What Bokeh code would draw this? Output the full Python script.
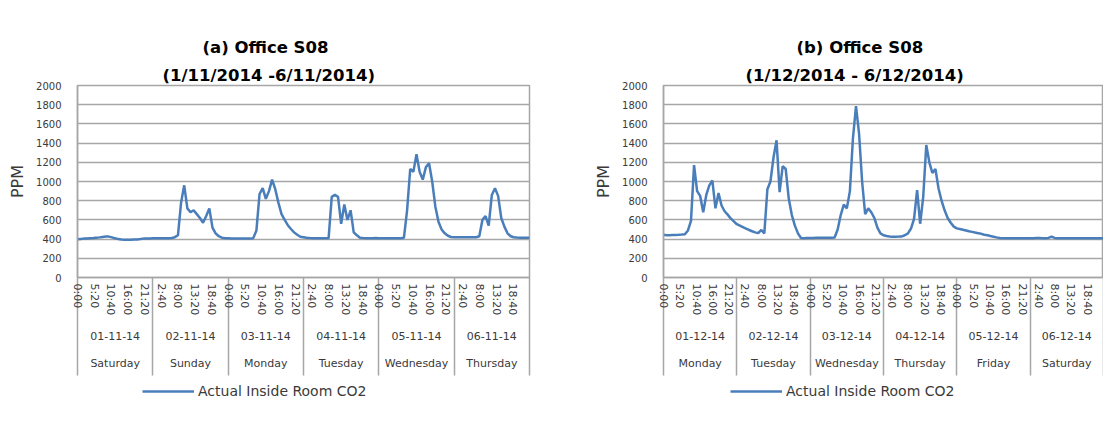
import numpy as np
from bokeh.plotting import figure
from bokeh.models import (Range1d, FixedTicker, LinearAxis,
                          Title, Legend, LegendItem, ColumnDataSource)
from bokeh.layouts import row, column
from bokeh.embed import file_html
from bokeh.resources import INLINE

# ---------------- data (hourly CO2 readings, ppm) ----------------
a_title = ["(a) Office  S08", "(1/11/2014 -6/11/2014)"]
a_dates = ["01-11-14", "02-11-14", "03-11-14", "04-11-14", "05-11-14", "06-11-14"]
a_days = ["Saturday", "Sunday", "Monday", "Tuesday", "Wednesday", "Thursday"]
a_day1 = [398, 402, 405, 407, 410, 412, 415, 418, 423, 428, 426, 418, 408, 400, 395, 393, 393, 393, 395, 396, 400, 405, 406, 406]
a_day2 = [408, 410, 410, 410, 410, 410, 412, 420, 440, 780, 960, 720, 680, 700, 660, 620, 570, 640, 720, 520, 460, 430, 415, 410]
a_day3 = [410, 406, 405, 405, 405, 405, 405, 405, 410, 490, 870, 930, 820, 900, 1020, 920, 780, 660, 600, 545, 505, 470, 445, 425]
a_day4 = [420, 415, 412, 410, 410, 410, 410, 410, 410, 840, 860, 840, 560, 760, 600, 700, 470, 440, 415, 412, 410, 410, 410, 412]
a_day5 = [410, 408, 408, 408, 408, 408, 408, 408, 415, 700, 1130, 1100, 1285, 1100, 1020, 1150, 1190, 1000, 740, 580, 500, 460, 435, 422]
a_day6 = [420, 420, 420, 420, 418, 418, 418, 420, 430, 600, 640, 540, 860, 930, 850, 620, 530, 460, 430, 420, 416, 415, 415, 415]
a_last = 415

b_title = ["(b) Office  S08", "(1/12/2014 - 6/12/2014)"]
b_dates = ["01-12-14", "02-12-14", "03-12-14", "04-12-14", "05-12-14", "06-12-14"]
b_days = ["Monday", "Tuesday", "Wednesday", "Thursday", "Friday", "Saturday"]
b_day1 = [445, 440, 440, 442, 444, 445, 447, 450, 490, 590, 1170, 900, 850, 680, 860, 960, 1010, 720, 880, 750, 690, 655, 615, 585]
b_day2 = [555, 540, 525, 510, 495, 482, 470, 462, 495, 460, 920, 1000, 1250, 1430, 890, 1160, 1130, 820, 650, 540, 460, 412, 410, 412]
b_day3 = [412, 412, 414, 415, 415, 414, 413, 413, 416, 500, 650, 760, 720, 900, 1450, 1785, 1500, 1000, 660, 720, 680, 620, 520, 460]
b_day4 = [440, 432, 428, 425, 425, 426, 428, 440, 460, 510, 610, 910, 560, 840, 1380, 1200, 1090, 1130, 930, 800, 700, 620, 570, 530]
b_day5 = [512, 505, 498, 490, 482, 475, 468, 462, 455, 445, 440, 432, 425, 418, 412, 410, 408, 408, 408, 408, 408, 408, 410, 410]
b_day6 = [410, 410, 412, 412, 410, 410, 412, 425, 412, 410, 410, 410, 410, 410, 410, 410, 410, 410, 410, 410, 410, 410, 410, 410]
b_last = 410

time_labels = ["0:00", "5:20", "10:40", "16:00", "21:20", "2:40", "8:00", "13:20", "18:40"]
y_ticks = [0, 200, 400, 600, 800, 1000, 1200, 1400, 1600, 1800, 2000]
series_name = "Actual Inside Room CO2"

# ---------------- styling ----------------
FONT = "DejaVu Sans"
BLUE = "#4a7ebb"
GRID = "#a6a6a6"
TXT = "#3a3a3a"
SEP = 98  # length of the day separator lines below the plot


def make_chart(title, dates, days, day_lists, last, frame_w, mb_right, t_offsets, margin):
    vals = [v for d in day_lists for v in d] + [last]
    minutes = [60 * i for i in range(len(vals))]
    src = ColumnDataSource(data=dict(x=minutes, y=vals))
    total = 1440 * len(dates)

    p = figure(frame_width=frame_w, frame_height=192, output_backend="svg", toolbar_location=None,
               x_range=Range1d(0, total), y_range=Range1d(0, 2000),
               min_border_left=0, min_border_right=mb_right,
               min_border_top=85, min_border_bottom=100, title=None, margin=margin)
    p.background_fill_color = "white"
    p.border_fill_color = "white"
    p.outline_line_color = GRID
    p.outline_line_width = 1.5

    xa = p.below[0]  # the time-of-day axis

    # titles (line 2 nearer the plot, line 1 outermost)
    p.add_layout(Title(text=title[1], align="left", offset=t_offsets[1], standoff=2,
                       text_font=FONT, text_font_size="16.5px", text_font_style="bold",
                       text_color="black"), "above")
    p.add_layout(Title(text=title[0], align="left", offset=t_offsets[0], standoff=11,
                       text_font=FONT, text_font_size="16.5px", text_font_style="bold",
                       text_color="black"), "above")

    p.line("x", "y", source=src, line_color=BLUE, line_width=2.5)

    # y axis
    p.yaxis.ticker = FixedTicker(ticks=y_ticks)
    p.yaxis.axis_label = "PPM"
    p.yaxis.axis_label_text_font = FONT
    p.yaxis.axis_label_text_font_size = "16px"
    p.yaxis.axis_label_text_font_style = "normal"
    p.yaxis.axis_label_text_color = TXT
    p.yaxis.axis_label_standoff = 6
    p.yaxis.major_label_text_font = FONT
    p.yaxis.major_label_text_font_size = "10px"
    p.yaxis.major_label_text_color = TXT
    p.yaxis.major_label_standoff = 10
    p.yaxis.major_tick_line_color = None
    p.yaxis.minor_tick_line_color = None
    p.yaxis.axis_line_color = GRID
    p.yaxis.axis_line_width = 1.5
    p.ygrid.ticker = FixedTicker(ticks=y_ticks)
    p.ygrid.grid_line_color = GRID
    p.ygrid.grid_line_width = 1.5
    p.xgrid.grid_line_color = None

    # time-of-day axis (ticks every 5h20m) with day separators as minor ticks
    n = len(time_labels) * 3
    tick_pos = [320 * i for i in range(n)]
    tick_txt = [time_labels[i % len(time_labels)] for i in range(n)]
    day_edges = [1440 * i for i in range(len(dates) + 1)]
    xa.ticker = FixedTicker(ticks=tick_pos, minor_ticks=day_edges)
    xa.major_label_overrides = {int(k): t for k, t in zip(tick_pos, tick_txt)}
    xa.major_label_orientation = "vertical"
    xa.major_label_text_font = FONT
    xa.major_label_text_font_size = "11px"
    xa.major_label_text_color = TXT
    xa.major_label_standoff = 6 - SEP
    xa.major_tick_line_color = None
    xa.major_tick_out = 0
    xa.major_tick_in = 0
    xa.minor_tick_line_color = GRID
    xa.minor_tick_line_width = 1.5
    xa.minor_tick_out = SEP
    xa.minor_tick_in = 0
    xa.axis_line_color = GRID
    xa.axis_line_width = 1.5

    # date row and day-name row (labels centred on each day)
    centers = [1440 * i + 720 for i in range(len(dates))]
    for names, standoff in ((dates, 13), (days, 14)):
        ax = LinearAxis(ticker=FixedTicker(ticks=centers, minor_ticks=[]))
        ax.major_label_overrides = {int(c): s for c, s in zip(centers, names)}
        ax.major_label_text_font = FONT
        ax.major_label_text_font_size = "11px"
        ax.major_label_text_color = TXT
        ax.major_label_standoff = standoff
        ax.major_tick_line_color = None
        ax.major_tick_out = 0
        ax.major_tick_in = 0
        ax.minor_tick_out = 0
        ax.minor_tick_in = 0
        ax.axis_line_color = None
        ax.minor_tick_line_color = None
        p.add_layout(ax, "below")
    return p, src


pa, src_a = make_chart(a_title, a_dates, a_days, [a_day1, a_day2, a_day3, a_day4, a_day5, a_day6],
                       a_last, 452, 62, (125, 85), (0, 0, 0, 5))
pb, src_b = make_chart(b_title, b_dates, b_days, [b_day1, b_day2, b_day3, b_day4, b_day5, b_day6],
                       b_last, 440, 0, (133, 82), (0, 0, 0, 0))

# legend strip under both charts (the series lines fall outside this strip's view)
lg = figure(frame_width=1096, frame_height=24, output_backend="svg", toolbar_location=None,
            x_range=Range1d(-2, -1), y_range=Range1d(-2, -1), x_axis_location=None,
            y_axis_location=None, min_border=0, outline_line_color=None)
lg.xgrid.visible = False
lg.ygrid.visible = False
for lx, s in ((142, src_a), (730, src_b)):
    key = lg.line("x", "y", source=s, line_color=BLUE, line_width=2.5)
    lg.add_layout(Legend(items=[LegendItem(label=series_name, renderers=[key])],
                         location=(lx, 2), orientation="horizontal", margin=0, padding=0,
                         border_line_color=None, background_fill_alpha=0,
                         glyph_width=52, glyph_height=16, label_standoff=4,
                         label_text_font=FONT, label_text_font_size="14px",
                         label_text_color=TXT))

layout = column(row(pa, pb), lg)
open("out.html", "w").write(file_html(layout, INLINE))
